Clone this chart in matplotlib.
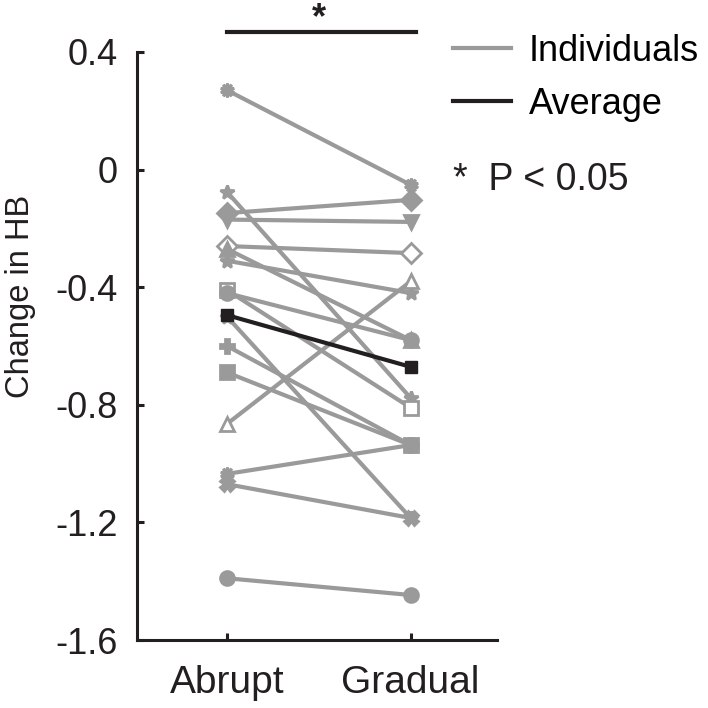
import matplotlib.pyplot as plt
from matplotlib.lines import Line2D

plt.rcParams['font.family'] = ['Liberation Sans', 'DejaVu Sans']

# Data: change in HB for each individual
conditions = ['Abrupt', 'Gradual']
abrupt = [0.27, -0.076, -0.148, -0.17, -0.26, -0.27, -0.31, -0.41,
          -0.42, -0.50, -0.60, -0.69, -0.865, -1.035, -1.07, -1.39]
gradual = [-0.052, -0.777, -0.103, -0.178, -0.284, -0.58, -0.42, -0.81,
           -0.58, -1.185, -0.937, -0.937, -0.38, -0.937, -1.185, -1.447]
average = [-0.495, -0.671]
y_ticks = [0.4, 0, -0.4, -0.8, -1.2, -1.6]
y_tick_labels = ['0.4', '0', '-0.4', '-0.8', '-1.2', '-1.6']

# Marker style per individual
markers = [(10, 1, 0), '*', 'D', 'v', 'D', '^', '*', 's',
           'o', '*', 'P', 's', '^', (10, 1, 0), 'X', 'o']
hollow = [False, False, False, False, True, False, False, True,
          False, False, False, False, True, False, False, False]

grey = '#9a9a9a'
black = '#231f20'

fig = plt.figure(figsize=(7.08, 7.08), dpi=100)
ax = fig.add_axes([137 / 708, 68 / 708, 360 / 708, 588 / 708])

x = [1, 2]

# Individual lines
for a, g, m, h in zip(abrupt, gradual, markers, hollow):
    ax.plot(x, [a, g], color=grey, lw=3, marker=m, markersize=10,
            markerfacecolor='white' if h else grey, markeredgecolor=grey,
            markeredgewidth=2, zorder=2)

# Average line
ax.plot(x, average, color=black, lw=3, marker='s', markersize=9, zorder=5)

# Axes
ax.set_xlim(0.51, 2.47)
ax.set_ylim(-1.6, 0.4)
ax.set_xticks(x)
ax.set_xticklabels(conditions)
ax.set_yticks(y_ticks)
ax.set_yticklabels(y_tick_labels)
ax.spines['top'].set_visible(False)
ax.spines['right'].set_visible(False)
for side in ['left', 'bottom']:
    ax.spines[side].set_linewidth(2.2)
    ax.spines[side].set_color(black)
ax.tick_params(direction='in', length=5, width=2.2, colors=black)
ax.tick_params(axis='y', pad=14, labelsize=26)
ax.tick_params(axis='x', pad=18, labelsize=28)
ax.set_ylabel('Change in HB', fontsize=23.5, color=black)
ax.yaxis.set_label_coords(-0.28, 0.585)

# Significance bar
ax.plot([1.0, 2.03], [0.468, 0.468], color=black, lw=3, clip_on=False)
ax.text(1.5, 0.515, '*', fontsize=26, fontweight='bold', ha='center',
        va='center', color=black, clip_on=False)

# Legend
handles = [Line2D([], [], color=grey, lw=3), Line2D([], [], color=black, lw=3)]
ax.legend(handles, ['Individuals', 'Average'], loc='upper left',
          bbox_to_anchor=(453 / 708, 1 - 34 / 708), bbox_transform=fig.transFigure,
          frameon=False, fontsize=26, handlelength=1.6, handletextpad=0.5,
          labelspacing=0.5, borderpad=0, borderaxespad=0)
fig.text(453 / 708, 1 - 180 / 708, '*  P < 0.05', fontsize=27, va='center',
         color=black)

plt.savefig('out.png', dpi=100)
